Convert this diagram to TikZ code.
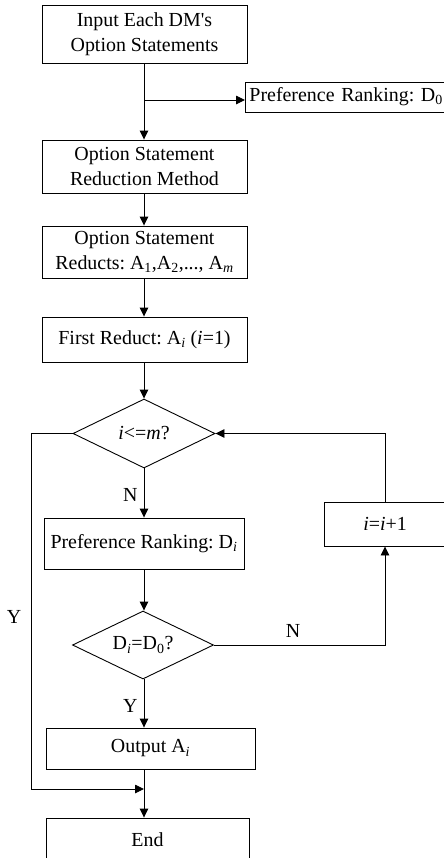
\documentclass[tikz,border=0pt]{standalone}
\usepackage{fontspec}
\setmainfont{Liberation Serif}
\usetikzlibrary{arrows.meta,shapes.geometric}
\newcommand{\sbs}[1]{\textsubscript{#1}}
\tikzset{
  box/.style={draw, line width=0.9bp, rectangle, inner sep=0pt, align=center, font=\fontsize{20}{25}\selectfont\frenchspacing},
  dia/.style={draw, line width=0.9bp, diamond, inner sep=0pt, aspect=2, font=\fontsize{20}{25}\selectfont},
  conn/.style={line width=0.9bp, -{Triangle[length=9bp,width=8.5bp]}},
  line/.style={line width=0.9bp},
  lbl/.style={font=\fontsize{20}{25}\selectfont, inner sep=0pt}
}
\begin{document}
\begin{tikzpicture}[x=1bp,y=-1bp]
\useasboundingbox (0,0) rectangle (444,858);
\clip (0,0) rectangle (444,858);
\node[box, minimum width=205bp, minimum height=58bp] (b1) at (144.5,34) {Input Each DM\textquotesingle s\\Option Statements};
\node[box, minimum width=230bp, minimum height=30bp, anchor=west, align=left, text width=222bp] (d0) at (245,97) {Preference Ranking: D\sbs{0}};
\node[box, minimum width=205bp, minimum height=53bp] (b2) at (144.5,166.5) {Option Statement\\Reduction Method};
\node[box, minimum width=205bp, minimum height=52bp] (b3) at (144.5,252) {Option Statement\\Reducts: A\sbs{1},A\sbs{2},..., A\sbs{\textit{m}}};
\node[box, minimum width=205bp, minimum height=45bp] (b4) at (144.5,339.5) {First Reduct: A\sbs{\textit{i}} (\textit{i}=1)};
\node[dia, minimum width=142bp, minimum height=69bp] (q1) at (144,433.5) {\textit{i}<=\textit{m}?};
\node[box, minimum width=200bp, minimum height=51bp] (b5) at (144,543.5) {Preference Ranking: D\sbs{\textit{i}}};
\node[dia, minimum width=141bp, minimum height=68bp] (q2) at (143,645) {D\sbs{\textit{i}}=D\sbs{0}?};
\node[box, minimum width=122bp, minimum height=44bp] (inc) at (385,524) {\textit{i}=\textit{i}+1};
\node[box, minimum width=209bp, minimum height=41bp] (b6) at (150.5,748.5) {Output A\sbs{\textit{i}}};
\node[box, minimum width=203bp, minimum height=44bp] (end) at (147.5,840) {End};

\coordinate (br) at (144,100);
\coordinate (mg) at (144,789);
\coordinate (lc) at (31,433.5);
\coordinate (rc) at (385,433.5);

\draw[line] (b1.south -| br) -- (br);
\draw[conn] (br) -- (b2.north -| br);
\draw[conn] (br) -- (d0.west |- br);
\draw[conn] (b2.south -| br) -- (b3.north -| br);
\draw[conn] (b3.south -| br) -- (b4.north -| br);
\draw[conn] (b4.south -| br) -- (q1.north);
\draw[conn] (q1.south) -- (b5.north -| q1.south) node[lbl, pos=0.55, left=6bp] {N};
\draw[conn] (b5.south -| q1.south) -- (q2.north -| q1.south);
\draw[conn] (q2.south -| q1.south) -- (b6.north -| q1.south) node[lbl, pos=0.55, left=6bp] {Y};
\draw[line] (b6.south -| mg) -- (mg);
\draw[conn] (mg) -- (end.north -| mg);
\draw[conn] (q1.west) -- (lc) -- (lc |- mg) -- (mg);
\node[lbl] (ylbl) at (14,617) {Y};
\draw[conn] (q2.east) -- (q2.east -| inc.south) -- (inc.south);
\node[lbl] (nlbl) at (293,631) {N};
\draw[conn] (inc.north) -- (rc) -- (q1.east);
\end{tikzpicture}
\end{document}
